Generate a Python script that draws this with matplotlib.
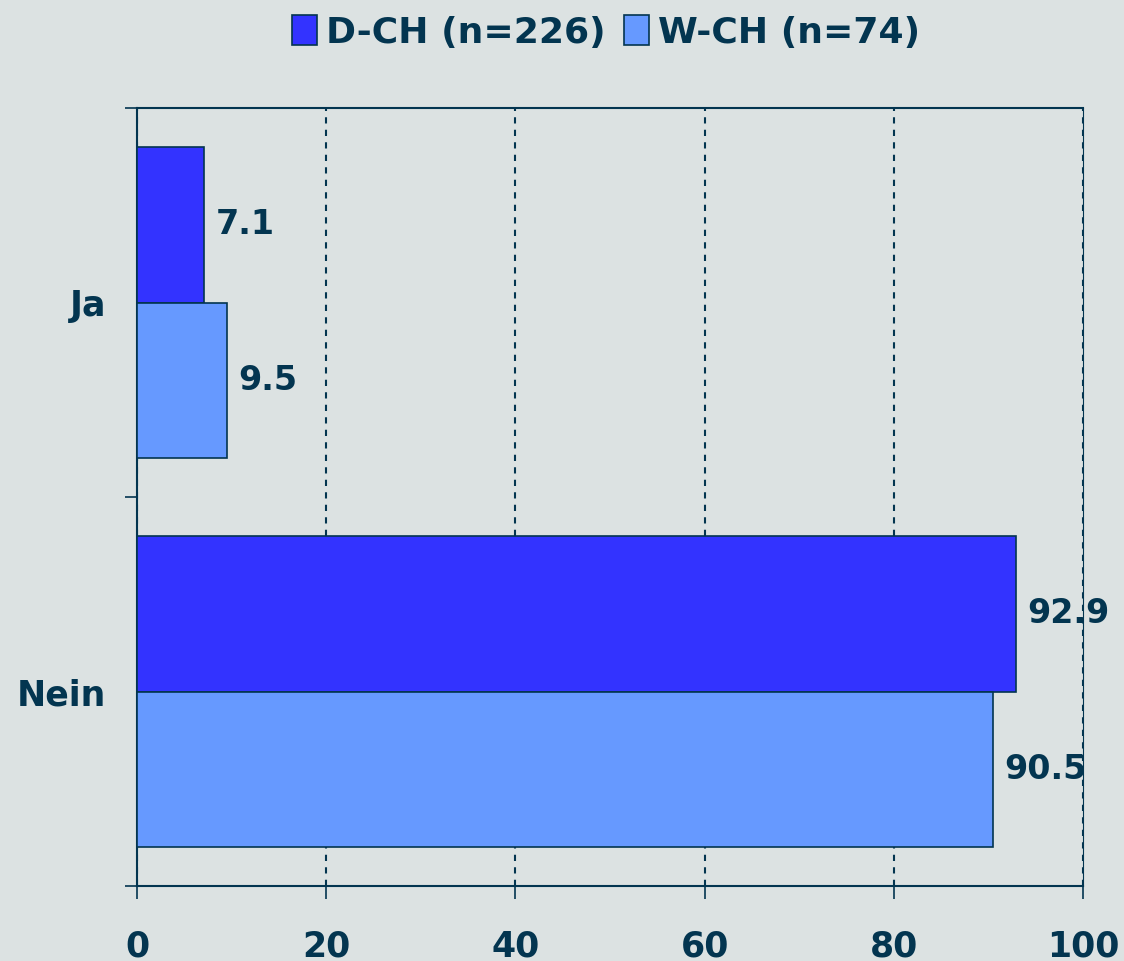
import numpy as np
import matplotlib.pyplot as plt

categories = ['Ja', 'Nein']
series = ['D-CH (n=226)', 'W-CH (n=74)']
d_ch = [7.1, 92.9]
w_ch = [9.5, 90.5]
xticks = [0, 20, 40, 60, 80, 100]

BG = '#dce2e2'
INK = '#033550'
COLORS = ['#3333ff', '#6699ff']

plt.rcParams['font.family'] = ['DejaVu Sans']
plt.rcParams['font.weight'] = 'bold'

fig = plt.figure(figsize=(11.24, 9.61), dpi=100, facecolor=BG)
ax = fig.add_axes([137 / 1124, 1 - 886 / 961, (1083 - 137) / 1124, (886 - 108) / 961])
ax.set_facecolor(BG)

y = np.arange(len(categories))
h = 0.4
for i, (vals, lab) in enumerate(zip([d_ch, w_ch], series)):
    pos = y - h / 2 + i * h
    bars = ax.barh(pos, vals, height=h, color=COLORS[i], edgecolor=INK,
                   linewidth=1.2, label=lab, zorder=3)
    for b, v in zip(bars, vals):
        ax.annotate(f'{v:.1f}', (b.get_width(), b.get_y() + b.get_height() / 2),
                    xytext=(8, 0), textcoords='offset points', va='center', ha='left',
                    fontsize=24, fontweight='bold', color=INK, zorder=4,
                    annotation_clip=False)

ax.set_xlim(0, 100)
ax.set_ylim(1.5, -0.5)
ax.set_xticks(xticks)
ax.set_xticklabels([str(t) for t in xticks])
ax.set_yticks([-0.5, 0.5, 1.5])
ax.set_yticklabels([])
ax.set_yticks(y, minor=True)
ax.set_yticklabels(categories, minor=True)
ax.tick_params(axis='y', which='major', direction='out', length=9, width=1.2, color=INK)
ax.tick_params(axis='y', which='minor', length=0, pad=22, labelsize=25, labelcolor=INK)
ax.tick_params(axis='x', direction='out', length=9, width=1.2, color=INK,
               labelsize=25, labelcolor=INK, pad=22)

for s in ['left', 'bottom', 'top']:
    ax.spines[s].set_color(INK)
    ax.spines[s].set_linewidth(1.5)
ax.spines['right'].set_color(INK)
ax.spines['right'].set_linewidth(0.8)

ax.xaxis.grid(True, linestyle=(0, (3, 3)), color=INK, linewidth=1.5, zorder=1)
ax.set_axisbelow(True)

fig.legend(loc='upper center', bbox_to_anchor=(606 / 1124, 1.018), ncol=2,
           frameon=False, handlelength=0.7, handleheight=0.9,
           handletextpad=0.25, columnspacing=0.5, labelcolor=INK,
           prop={'weight': 'bold', 'size': 26})

plt.savefig('out.png', dpi=100, facecolor=BG)
